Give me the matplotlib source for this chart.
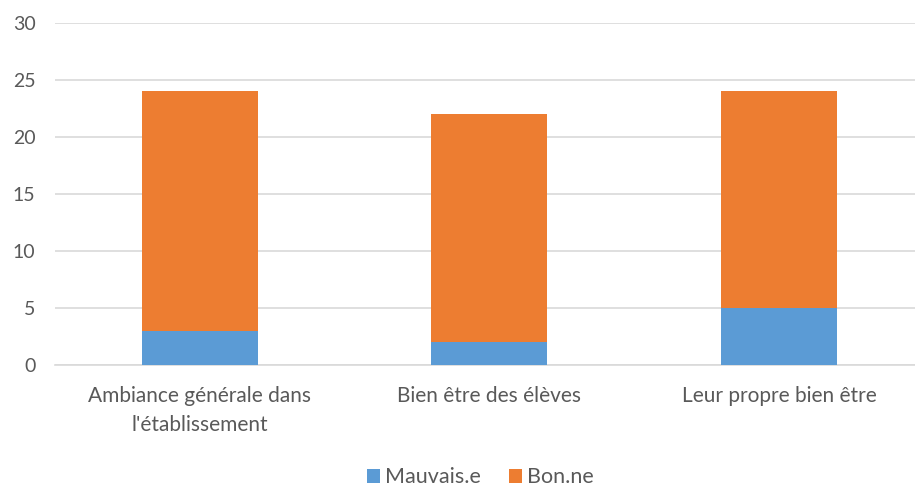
import matplotlib
matplotlib.use("Agg")
import matplotlib.pyplot as plt

# Data
categories = ["Ambiance générale dans\nl'établissement", "Bien être des élèves", "Leur propre bien être"]
mauvais = [3, 2, 5]
bon = [21, 20, 19]
series_names = ["Mauvais.e", "Bon.ne"]
colors = ["#5B9BD5", "#ED7D31"]

plt.rcParams['font.family'] = ['Lato', 'DejaVu Sans']
text_color = "#595959"

fig = plt.figure(figsize=(9.15, 4.88), dpi=100)
ax = fig.add_axes([0.06, 0.252, 0.94, 0.701])

x = list(range(len(categories)))
ax.bar(x, mauvais, width=0.4, color=colors[0], label=series_names[0], zorder=3)
ax.bar(x, bon, width=0.4, bottom=mauvais, color=colors[1], label=series_names[1], zorder=3)

ax.set_ylim(0, 30)
ax.set_yticks(range(0, 31, 5))
ax.set_xlim(-0.5, 2.47)
ax.set_xticks(x)
ax.set_xticklabels(categories, fontsize=15, color=text_color, linespacing=1.55)
ax.tick_params(axis='y', labelsize=14, labelcolor=text_color, length=0, pad=14)
ax.tick_params(axis='x', length=0, pad=15)

ax.yaxis.grid(True, color="#D9D9D9", linewidth=1.2, zorder=0)
for s in ["top", "right", "left"]:
    ax.spines[s].set_visible(False)
ax.spines["bottom"].set_color("#D9D9D9")
ax.spines["bottom"].set_linewidth(1.2)

fig.legend(loc="center", bbox_to_anchor=(0.525, 0.022), ncol=2, frameon=False,
           fontsize=15.5, labelcolor=text_color, handlelength=0.6, handleheight=0.6,
           handletextpad=0.25, columnspacing=1.3)

fig.savefig("out.png", dpi=100)
